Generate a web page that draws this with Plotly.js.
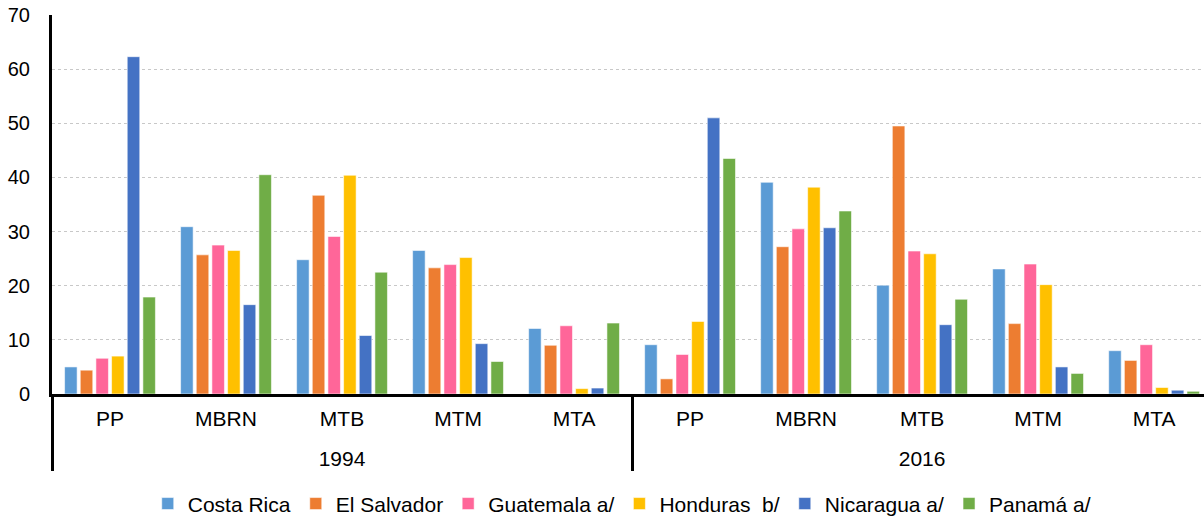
<!DOCTYPE html>
<html>
<head>
<meta charset="utf-8">
<script src="https://cdn.plot.ly/plotly-3.0.1.min.js"></script>
<style>
  html, body { margin: 0; padding: 0; background: #fff; }
  #chart { width: 1204px; height: 516px; }
</style>
</head>
<body>
<div id="chart"></div>
<script>
// two-level x axis: year on the outer row, sector on the inner row
const years = ["1994", "2016"];
const sectors = ["PP", "MBRN", "MTB", "MTM", "MTA"];

const countries = ["Costa Rica", "El Salvador", "Guatemala a/", "Honduras\u00a0 b/", "Nicaragua a/", "Panamá a/"];
const colors = ["#5B9BD5", "#ED7D31", "#FF6699", "#FFC000", "#4472C4", "#70AD47"];

// values per country, 1994 PP..MTA then 2016 PP..MTA
const costaRica  = [5.0, 30.9, 24.8, 26.5, 12.1,   9.1, 39.1, 20.1, 23.1, 8.0];
const elSalvador = [4.4, 25.7, 36.7, 23.3, 9.0,    2.8, 27.2, 49.5, 13.0, 6.2];
const guatemala  = [6.6, 27.5, 29.1, 23.9, 12.6,   7.3, 30.5, 26.4, 24.0, 9.1];
const honduras   = [7.0, 26.5, 40.4, 25.2, 1.0,    13.4, 38.2, 25.9, 20.2, 1.2];
const nicaragua  = [62.3, 16.5, 10.8, 9.3, 1.1,    51.0, 30.7, 12.8, 5.0, 0.7];
const panama     = [17.9, 40.5, 22.5, 6.0, 13.1,   43.5, 33.8, 17.5, 3.8, 0.5];

const series = [costaRica, elSalvador, guatemala, honduras, nicaragua, panama];

// label text: the inner row gets a tiny blank 2nd line so the year row sits lower
const big = (t) => "<span style='font-size:21px'>" + t + "</span>";
const spacer = "<br><span style='font-size:1px'>\u00a0</span>";
const xOuter = [];
const xInner = [];
years.forEach((y) => {
  sectors.forEach((s) => {
    xOuter.push(big(y));
    xInner.push(big(s) + spacer);
  });
});

const traces = series.map((vals, i) => {
  return {
    type: "bar",
    name: countries[i],
    x: [xOuter, xInner],
    y: vals,
    marker: {
      color: colors[i],
      line: { color: "rgba(255,255,255,0.7)", width: 0.8 },
    },
  };
});

const font = { family: "Liberation Sans, Arial, sans-serif", size: 20, color: "#000" };

const layout = {
  width: 1204,
  height: 516,
  font: font,
  paper_bgcolor: "#fff",
  plot_bgcolor: "#fff",
  barmode: "group",
  bargap: 0.19,
  bargroupgap: 0.2,
  margin: { l: 52, r: 0, t: 15, b: 122, autoexpand: false },
  showlegend: true,
  legend: {
    orientation: "h",
    x: 0.495,
    xanchor: "center",
    y: -0.29,
    yanchor: "middle",
    font: { family: font.family, size: 21, color: "#000" },
    traceorder: "normal",
  },
  xaxis: {
    type: "multicategory",
    range: [-0.5, 9.43],
    showline: true,
    linecolor: "#000",
    linewidth: 3,
    showgrid: false,
    ticks: "",
    ticklabelstandoff: 6,
    showdividers: true,
    dividercolor: "#000",
    dividerwidth: 3,
    tickfont: { family: font.family, size: 19, color: "#000" },
  },
  yaxis: {
    range: [0, 70],
    dtick: 10,
    showline: true,
    linecolor: "#000",
    linewidth: 3,
    showgrid: true,
    gridcolor: "#c8c8c8",
    griddash: "dot",
    gridwidth: 1,
    zeroline: false,
    ticks: "outside",
    ticklen: 15,
    tickcolor: "rgba(0,0,0,0)",
    tickfont: font,
  },
};

Plotly.newPlot("chart", traces, layout, { staticPlot: true });
</script>
</body>
</html>
